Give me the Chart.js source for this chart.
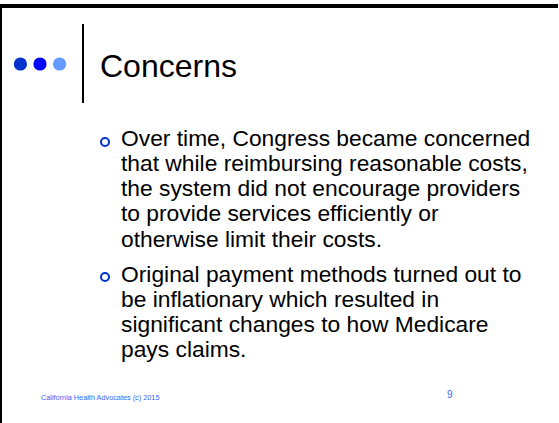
<!DOCTYPE html>
<html>
<head>
<meta charset="utf-8">
<script src="https://cdn.jsdelivr.net/npm/chart.js@4/dist/chart.umd.min.js"></script>
<style>
  html, body { margin: 0; padding: 0; background: #fff; }
  body { width: 559px; height: 423px; position: relative; overflow: hidden; font-family: "Liberation Sans", Arial, sans-serif; }
  .abs { position: absolute; }
  #topbar { left: 0; top: 4px; width: 558px; height: 4px; background: #000; }
  #leftbar { left: 0; top: 4px; width: 2px; height: 419px; background: #000; }
  #sep { left: 82px; top: 24px; width: 2px; height: 79px; background: #000; }
  #dots { left: 4px; top: 52px; width: 72px; height: 24px; }
  #title { left: 100px; top: 50px; font-size: 32px; line-height: 32px; color: #000; white-space: nowrap; }
  .para { left: 121px; font-size: 22.8px; line-height: 25.2px; color: #000; white-space: nowrap; }
  .bul { width: 6px; height: 6px; border: 2.2px solid #0033CC; border-radius: 50%; }
  #footer { left: 41px; top: 394.3px; font-size: 7.3px; line-height: 7.3px; color: #3366FF; white-space: nowrap; }
  #pagenum { left: 447px; top: 390px; font-size: 10px; line-height: 10px; color: #3366FF; }
</style>
</head>
<body>
<div id="topbar" class="abs"></div>
<div id="leftbar" class="abs"></div>
<div id="sep" class="abs"></div>
<div id="dots" class="abs"><canvas id="c" width="72" height="24"></canvas></div>
<div id="title" class="abs"></div>
<div id="paras"></div>
<div id="footer" class="abs"></div>
<div id="pagenum" class="abs"></div>
<script>
// ---- data ----
const titleText = "Concerns";
const bullet1Lines = [
  "Over time, Congress became concerned",
  "that while reimbursing reasonable costs,",
  "the system did not encourage providers",
  "to provide services efficiently or",
  "otherwise limit their costs."
];
const bullet2Lines = [
  "Original payment methods turned out to",
  "be inflationary which resulted in",
  "significant changes to how Medicare",
  "pays claims."
];
const footerText = "California Health Advocates (c) 2015";
const pageNumber = "9";
const dotX = [1, 2, 3];
const dotY = [0, 0, 0];
const dotColors = ["#0033CC", "#0000FF", "#6699FF"];

// ---- text ----
document.getElementById('title').textContent = titleText;
document.getElementById('footer').textContent = footerText;
document.getElementById('pagenum').textContent = pageNumber;
const baselines = [146.3, 282];
const paras = document.getElementById('paras');
[bullet1Lines, bullet2Lines].forEach((lines, i) => {
  const b = document.createElement('div');
  b.className = 'abs bul';
  b.style.left = (105.5 - 5.2) + 'px';
  b.style.top = (baselines[i] - 4.6 - 5.2) + 'px';
  paras.appendChild(b);
  const p = document.createElement('div');
  p.className = 'abs para';
  p.style.top = (baselines[i] - 20.5) + 'px';
  lines.forEach((ln, k) => {
    if (k) p.appendChild(document.createElement('br'));
    p.appendChild(document.createTextNode(ln));
  });
  paras.appendChild(p);
});

// ---- dots via Chart.js ----
new Chart(document.getElementById('c'), {
  type: 'scatter',
  data: {
    datasets: [{
      data: dotX.map((x, i) => ({ x: x, y: dotY[i] })),
      pointRadius: 6.6,
      pointHoverRadius: 6.6,
      pointBackgroundColor: dotColors,
      pointBorderWidth: 0,
      clip: false
    }]
  },
  options: {
    responsive: false,
    animation: false,
    events: [],
    layout: { padding: 0 },
    plugins: { legend: { display: false }, tooltip: { enabled: false } },
    scales: {
      x: { type: 'linear', min: 0.5, max: 3.5, display: false },
      y: { type: 'linear', min: -1, max: 1, display: false }
    }
  }
});
</script>
</body>
</html>
